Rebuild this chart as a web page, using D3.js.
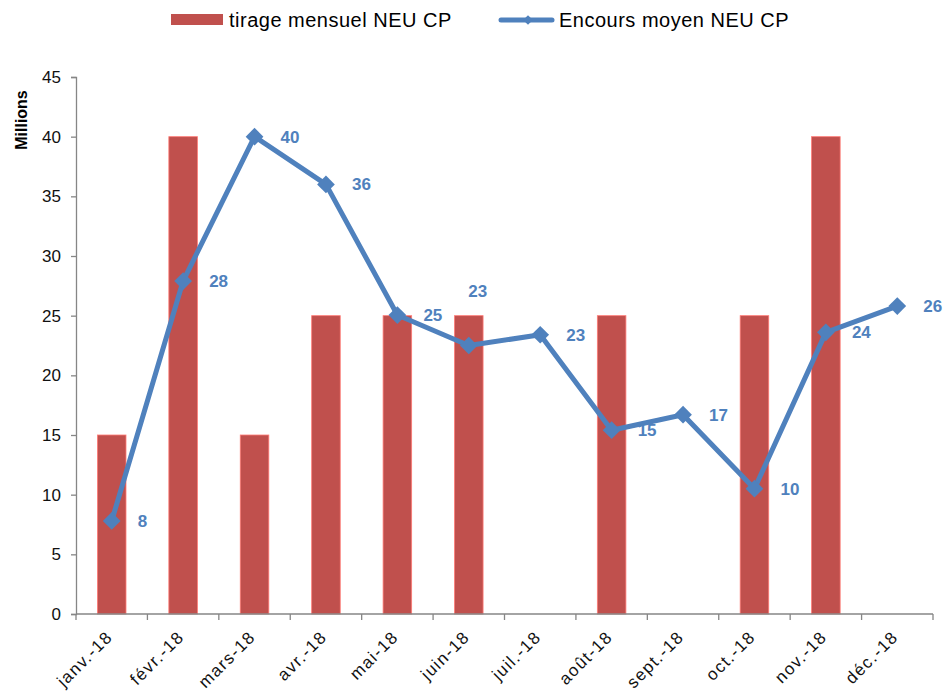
<!DOCTYPE html>
<html>
<head>
<meta charset="utf-8">
<script src="https://cdn.jsdelivr.net/npm/d3@7"></script>
<style>
  body { margin: 0; background: #fff; }
  svg text { font-family: "Liberation Sans", Arial, sans-serif; }
</style>
</head>
<body>
<svg width="946" height="695"></svg>
<script>
var months = ["janv.-18", "févr.-18", "mars-18", "avr.-18", "mai-18", "juin-18",
              "juil.-18", "août-18", "sept.-18", "oct.-18", "nov.-18", "déc.-18"];
var tirage = [15, 40, 15, 25, 25, 25, 0, 25, 0, 25, 40, 0];
var encours = [7.8, 27.9, 40, 36, 25.05, 22.5, 23.4, 15.4, 16.7, 10.5, 23.6, 25.8];
var encoursLabels = ["8", "28", "40", "36", "25", "23", "23", "15", "17", "10", "24", "26"];
var yTicks = [0, 5, 10, 15, 20, 25, 30, 35, 40, 45];

var RED = "#C0504D", BLUE = "#4F81BD", AXIS = "#868686";

var svg = d3.select("svg");
var margin = {left: 76, right: 13, top: 77, bottom: 81};
var width = +svg.attr("width"), height = +svg.attr("height");

var x = d3.scaleBand().domain(months)
    .range([margin.left, width - margin.right])
    .paddingInner(0.6).paddingOuter(0.3);
var xBand = d3.scaleBand().domain(months).range([margin.left, width - margin.right]);
var y = d3.scaleLinear().domain([0, 45]).range([height - margin.bottom, margin.top]);

// bars
svg.append("g").selectAll("rect")
  .data(tirage)
  .enter().append("rect")
    .attr("x", function(d, i) { return x(months[i]); })
    .attr("width", x.bandwidth())
    .attr("y", function(d) { return y(d); })
    .attr("height", function(d) { return y(0) - y(d); })
    .attr("fill", RED)
    .attr("stroke", d3.color(RED).brighter(1.2))
    .attr("stroke-width", d => d > 0 ? 0.8 : 0);

// y axis
var yAxis = svg.append("g")
    .attr("transform", "translate(" + margin.left + ",0)")
    .call(d3.axisLeft(y).tickValues(yTicks).tickSize(5).tickPadding(10).tickFormat(d3.format("d")));
yAxis.select(".domain").attr("stroke", AXIS).attr("stroke-width", 1.3);
yAxis.selectAll(".tick line").attr("stroke", AXIS).attr("stroke-width", 1.3);
yAxis.selectAll("text").attr("font-size", 17).attr("fill", "#111")
    .style("font-family", "Liberation Sans, Arial, sans-serif");

// x axis with ticks at band boundaries
var xg = svg.append("g").attr("transform", "translate(0," + y(0) + ")");
xg.append("line").attr("x1", margin.left).attr("x2", width - margin.right)
    .attr("stroke", AXIS).attr("stroke-width", 1.3);
var bounds = months.map(function(m) { return xBand(m); }).concat([width - margin.right]);
xg.selectAll("line.tk").data(bounds).enter().append("line")
    .attr("class", "tk")
    .attr("x1", d => d).attr("x2", d => d)
    .attr("y1", 0).attr("y2", 6)
    .attr("stroke", AXIS).attr("stroke-width", 1.3);
xg.selectAll("text").data(months).enter().append("text")
    .attr("transform", function(d) {
      return "translate(" + (xBand(d) + xBand.bandwidth() / 2 + 2) + ",24) rotate(-45)";
    })
    .attr("text-anchor", "end")
    .attr("font-size", 17)
    .attr("letter-spacing", 1.4)
    .attr("fill", "#111")
    .text(d => d);

// y axis title
svg.append("text")
    .attr("transform", "translate(27,120) rotate(-90)")
    .attr("text-anchor", "middle")
    .attr("font-size", 16)
    .attr("font-weight", "bold")
    .text("Millions");

// line
var cx = function(i) { return xBand(months[i]) + xBand.bandwidth() / 2; };
var line = d3.line()
    .x(function(d, i) { return cx(i); })
    .y(function(d) { return y(d); });
svg.append("path")
    .datum(encours)
    .attr("d", line)
    .attr("fill", "none")
    .attr("stroke", BLUE)
    .attr("stroke-width", 5)
    .attr("stroke-linejoin", "round");

var diamond = d3.symbol().type(d3.symbolDiamond2).size(200);
svg.append("g").selectAll("path")
  .data(encours)
  .enter().append("path")
    .attr("d", diamond)
    .attr("transform", function(d, i) { return "translate(" + cx(i) + "," + y(d) + ")"; })
    .attr("fill", BLUE);

// data labels (juin label sits above its point)
svg.append("g").selectAll("text")
  .data(encours)
  .enter().append("text")
    .attr("x", function(d, i) { return i === 5 ? cx(i) + 9 : cx(i) + 26; })
    .attr("y", function(d, i) { return i === 5 ? y(d) - 49 : y(d) + 6; })
    .attr("text-anchor", (d, i) => i === 5 ? "middle" : "start")
    .attr("font-size", 17)
    .attr("font-weight", "bold")
    .attr("fill", BLUE)
    .text(function(d, i) { return encoursLabels[i]; });

// legend
var lg = svg.append("g");
lg.append("rect").attr("x", 171).attr("y", 14).attr("width", 52).attr("height", 11).attr("fill", RED);
lg.append("text").attr("x", 229).attr("y", 27).attr("font-size", 20)
    .attr("letter-spacing", 0.5).text("tirage mensuel NEU CP");
lg.append("line").attr("x1", 501).attr("x2", 552).attr("y1", 20).attr("y2", 20)
    .attr("stroke", BLUE).attr("stroke-width", 5).attr("stroke-linecap", "round");
lg.append("path").attr("d", d3.symbol().type(d3.symbolDiamond2).size(60))
    .attr("transform", "translate(528,20)").attr("fill", BLUE);
lg.append("text").attr("x", 559).attr("y", 27).attr("font-size", 20)
    .attr("letter-spacing", 0.5).text("Encours moyen NEU CP");
</script>
</body>
</html>
